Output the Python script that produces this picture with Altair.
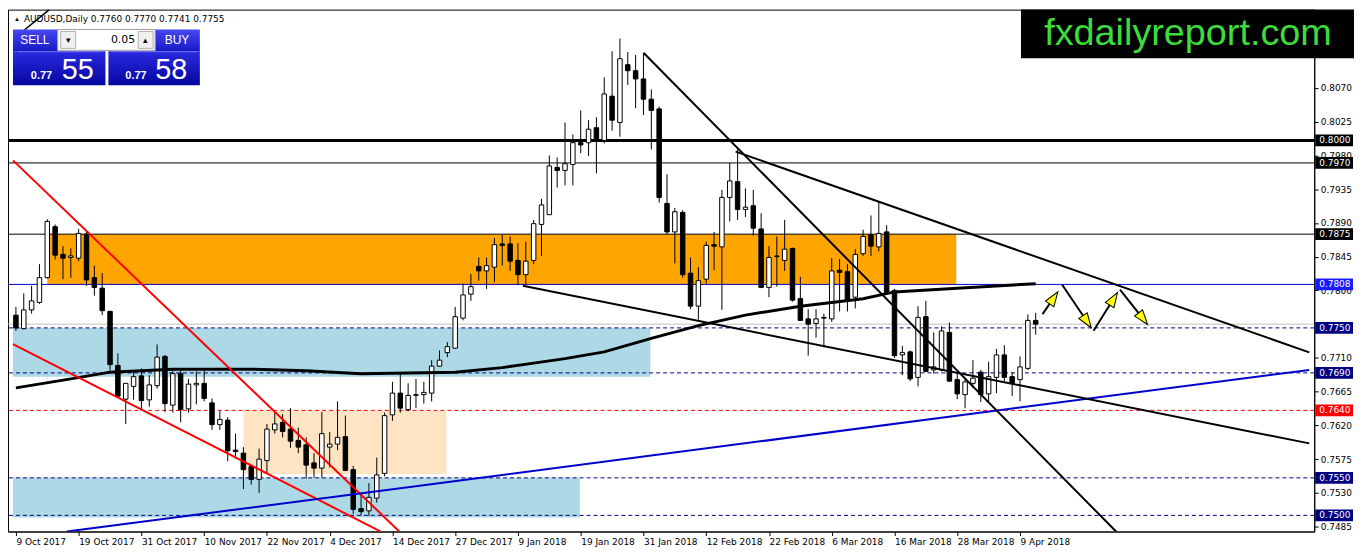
import json
import altair as alt
import pandas as pd

# ---------------- data ----------------
date_labels = ["9 Oct 2017", "19 Oct 2017", "31 Oct 2017", "10 Nov 2017", "22 Nov 2017",
               "4 Dec 2017", "14 Dec 2017", "27 Dec 2017", "9 Jan 2018", "19 Jan 2018",
               "31 Jan 2018", "12 Feb 2018", "22 Feb 2018", "6 Mar 2018", "16 Mar 2018",
               "28 Mar 2018", "9 Apr 2018"]

opens = [0.7767, 0.7749, 0.7774, 0.7784, 0.7817, 0.7885, 0.7848, 0.7844, 0.7843, 0.7875,
         0.7817, 0.7803, 0.7772, 0.7700, 0.7655, 0.7672, 0.7686, 0.7654, 0.7673, 0.7712,
         0.7647, 0.7689, 0.7642, 0.7674, 0.7676, 0.7650, 0.7621, 0.7627, 0.7587, 0.7583,
         0.7565, 0.7548, 0.7573, 0.7614, 0.7624, 0.7615, 0.7600, 0.7594, 0.7570, 0.7563,
         0.7591, 0.7595, 0.7605, 0.7561, 0.7509, 0.7506, 0.7523, 0.7556, 0.7634, 0.7663,
         0.7641, 0.7660, 0.7661, 0.7663, 0.7699, 0.7717, 0.7723, 0.7763, 0.7795, 0.7832,
         0.7826, 0.7831, 0.7862, 0.7862, 0.7840, 0.7821, 0.7840, 0.7888, 0.7901, 0.7964,
         0.7960, 0.7968, 0.7997, 0.7997, 0.8017, 0.8000, 0.8059, 0.8024, 0.8101, 0.8093,
         0.8082, 0.8055, 0.8042, 0.7916, 0.7878, 0.7904, 0.7823, 0.7779, 0.7815, 0.7861,
         0.7858, 0.7924, 0.7945, 0.7908, 0.7913, 0.7882, 0.7804, 0.7845, 0.7840, 0.7856,
         0.7789, 0.7762, 0.7756, 0.7764, 0.7762, 0.7827, 0.7825, 0.7791, 0.7849, 0.7874,
         0.7858, 0.7878, 0.7800, 0.7714, 0.7718, 0.7684, 0.7765, 0.7694, 0.7694, 0.7744,
         0.7681, 0.7661, 0.7676, 0.7691, 0.7662, 0.7684, 0.7714, 0.7685, 0.7681, 0.7696,
         0.7760]
highs = [0.7778, 0.7796, 0.7806, 0.7835, 0.7895, 0.7888, 0.7859, 0.7856, 0.7882, 0.7878,
         0.7833, 0.7823, 0.7773, 0.7716, 0.7676, 0.7693, 0.7696, 0.7687, 0.7728, 0.7714,
         0.7696, 0.7693, 0.7682, 0.7692, 0.7693, 0.7656, 0.7639, 0.7631, 0.7609, 0.7591,
         0.7567, 0.7589, 0.7622, 0.7637, 0.7635, 0.7643, 0.7617, 0.7604, 0.7583, 0.7638,
         0.7611, 0.7652, 0.7633, 0.7566, 0.7528, 0.7543, 0.7577, 0.7637, 0.7678, 0.7691,
         0.7676, 0.7682, 0.7678, 0.7707, 0.7720, 0.7731, 0.7778, 0.7809, 0.7822, 0.7844,
         0.7844, 0.7870, 0.7874, 0.7872, 0.7863, 0.7865, 0.7894, 0.7922, 0.7980, 0.7977,
         0.8024, 0.8008, 0.8040, 0.8027, 0.8031, 0.8084, 0.8119, 0.8136, 0.8118, 0.8114,
         0.8116, 0.8068, 0.8045, 0.7955, 0.7910, 0.7907, 0.7844, 0.7831, 0.7865, 0.7878,
         0.7934, 0.7970, 0.7988, 0.7936, 0.7934, 0.7903, 0.7859, 0.7872, 0.7894, 0.7857,
         0.7818, 0.7775, 0.7775, 0.7769, 0.7843, 0.7842, 0.7835, 0.7855, 0.7881, 0.7900,
         0.7918, 0.7887, 0.7802, 0.7726, 0.7720, 0.7779, 0.7786, 0.7744, 0.7752, 0.7757,
         0.7691, 0.7683, 0.7707, 0.7694, 0.7705, 0.7722, 0.7727, 0.7691, 0.7712, 0.7768,
         0.7770]
lows = [0.7746, 0.7748, 0.7769, 0.7782, 0.7816, 0.7841, 0.7815, 0.7817, 0.7839, 0.7806,
        0.7793, 0.7767, 0.7693, 0.7657, 0.7622, 0.7654, 0.7641, 0.7645, 0.7669, 0.7638,
        0.7637, 0.7624, 0.7637, 0.7648, 0.7652, 0.7614, 0.7614, 0.7572, 0.7576, 0.7535,
        0.7541, 0.7530, 0.7556, 0.7609, 0.7604, 0.7590, 0.7583, 0.7549, 0.7550, 0.7550,
        0.7564, 0.7587, 0.7559, 0.7502, 0.7500, 0.7499, 0.7517, 0.7552, 0.7626, 0.7637,
        0.7639, 0.7643, 0.7649, 0.7652, 0.7698, 0.7711, 0.7722, 0.7760, 0.7786, 0.7813,
        0.7802, 0.7811, 0.7833, 0.7826, 0.7807, 0.7808, 0.7835, 0.7846, 0.7901, 0.7937,
        0.7940, 0.7940, 0.7983, 0.7979, 0.7956, 0.7996, 0.8013, 0.8005, 0.8074, 0.8043,
        0.8034, 0.7988, 0.7917, 0.7875, 0.7836, 0.7817, 0.7775, 0.7761, 0.7809, 0.7827,
        0.7774, 0.7892, 0.7894, 0.7898, 0.7873, 0.7803, 0.7791, 0.7805, 0.7826, 0.7785,
        0.7759, 0.7713, 0.7737, 0.7724, 0.7758, 0.7772, 0.7772, 0.7776, 0.7846, 0.7846,
        0.7852, 0.7794, 0.7710, 0.7687, 0.7679, 0.7672, 0.7691, 0.7689, 0.7692, 0.7678,
        0.7655, 0.7643, 0.7670, 0.7651, 0.7652, 0.7663, 0.7679, 0.7659, 0.7652, 0.7694,
        0.7741]
closes = [0.7750, 0.7774, 0.7786, 0.7817, 0.7892, 0.7847, 0.7843, 0.7846, 0.7876, 0.7814,
          0.7804, 0.7773, 0.7701, 0.7659, 0.7676, 0.7685, 0.7653, 0.7674, 0.7711, 0.7649,
          0.7689, 0.7641, 0.7675, 0.7676, 0.7656, 0.7621, 0.7628, 0.7586, 0.7585, 0.7561,
          0.7548, 0.7575, 0.7615, 0.7622, 0.7612, 0.7599, 0.7591, 0.7567, 0.7563, 0.7609,
          0.7595, 0.7604, 0.7560, 0.7508, 0.7505, 0.7524, 0.7554, 0.7633, 0.7663, 0.7643,
          0.7660, 0.7661, 0.7664, 0.7699, 0.7707, 0.7725, 0.7765, 0.7794, 0.7805, 0.7826,
          0.7833, 0.7861, 0.7860, 0.7839, 0.7821, 0.7839, 0.7889, 0.7914, 0.7966, 0.7960,
          0.7969, 0.7997, 0.7994, 0.8015, 0.8000, 0.8062, 0.8027, 0.8109, 0.8093, 0.8082,
          0.8055, 0.8040, 0.7924, 0.7878, 0.7905, 0.7821, 0.7779, 0.7813, 0.7860, 0.7859,
          0.7924, 0.7946, 0.7908, 0.7911, 0.7883, 0.7804, 0.7844, 0.7846, 0.7855, 0.7787,
          0.7760, 0.7755, 0.7762, 0.7763, 0.7826, 0.7824, 0.7787, 0.7848, 0.7872, 0.7859,
          0.7876, 0.7796, 0.7713, 0.7717, 0.7682, 0.7764, 0.7692, 0.7698, 0.7746, 0.7679,
          0.7662, 0.7678, 0.7683, 0.7661, 0.7685, 0.7714, 0.7684, 0.7676, 0.7698, 0.7760,
          0.7755]

# moving average (bar index, value)
ma_idx = [0, 7, 12, 20, 30, 37, 44, 50, 56, 62, 66, 70, 75, 81, 87, 93, 100, 108, 112, 120, 130]
ma_val = [0.7670, 0.7682, 0.7691, 0.7695, 0.7695, 0.7693, 0.7689, 0.7690, 0.7691, 0.7697,
          0.7703, 0.7709, 0.7718, 0.7736, 0.7753, 0.7767, 0.7779, 0.7789, 0.7798, 0.7803, 0.7809]

# shaded zones
zone_x1 = [4.0, -0.375, -0.375, 29.0]
zone_x2 = [119.875, 80.875, 71.875, 54.875]
zone_lo = [0.7808, 0.7685, 0.7497, 0.7555]
zone_hi = [0.7875, 0.7750, 0.7550, 0.7640]
zone_col = ["#FFA500", "#ADD8E6", "#ADD8E6", "#FFE4C4"]

# trend lines
tl_x1 = [-0.375, -0.375, 6.5, 80.0, 91.75, 64.625, 0.0]
tl_p1 = [0.79734, 0.77285, 0.747846, 0.8117, 0.79851, 0.78062, 0.81379]
tl_x2 = [48.875, 46.5, 164.875, 140.25, 164.875, 164.875, 4.25]
tl_p2 = [0.747846, 0.747846, 0.76939, 0.747846, 0.77174, 0.7596, 0.81745]
tl_col = ["#FF0000", "#FF0000", "#0000CD", "#000000", "#000000", "#000000", "#000000"]
tl_w = [2, 2, 2, 2, 2, 2, 1.5]

# arrow zig-zag
ar_x1 = [130.875, 133.375, 137.375, 140.75]
ar_p1 = [0.77684, 0.78075, 0.77462, 0.7801]
ar_x2 = [132.25, 136.5, 139.875, 143.625]
ar_p2 = [0.77892, 0.77592, 0.77879, 0.77631]
ar_ang = [34, 146, 32, 142]

# horizontal levels
thick_levels = [0.8000]
solid_levels = [0.7970, 0.7875]
blue_levels = [0.7808]
bid_levels = [0.7755]
navy_dash_levels = [0.7750, 0.7690, 0.7550, 0.7500]
red_dash_levels = [0.7640]

# right axis
axis_ticks = [0.8070, 0.8025, 0.7980, 0.7935, 0.7890, 0.7845, 0.7800, 0.7710,
              0.7665, 0.7620, 0.7575, 0.7530, 0.7485]
box_vals = [0.8000, 0.7970, 0.7875, 0.7808, 0.7750, 0.7690, 0.7640, 0.7550, 0.7500]
box_cols = ["#000000", "#000000", "#000000", "#1A1AFF", "#000080", "#000080",
            "#FF0000", "#000080", "#000080"]

# ---------------- chart ----------------
W, H = 1314, 525
XD = [-0.375, 164.875]
YD = [0.747846, 0.817447]
xs = alt.Scale(domain=XD, nice=False, zero=False)
ys = alt.Scale(domain=YD, nice=False, zero=False)

cdf = pd.DataFrame({"idx": list(range(len(opens))), "o": opens, "h": highs,
                    "l": lows, "c": closes})
cdf["top"] = cdf[["o", "c"]].max(axis=1)
cdf["bot"] = cdf[["o", "c"]].min(axis=1)

label_expr = "%s[round(datum.value/8)]" % json.dumps(date_labels)
xaxis = alt.Axis(values=[8 * k for k in range(len(date_labels))], labelExpr=label_expr,
                 title=None, grid=False, labelAlign="left", labelFontSize=9,
                 labelFont="DejaVu Sans", labelColor="black", tickColor="black",
                 domainColor="black", tickSize=4, labelPadding=2, labelOverlap=False,
                 labelFlush=False, labelBound=False)
yaxis = alt.Axis(orient="right", values=axis_ticks, format=".4f", title=None, grid=False,
                 labelFontSize=9, labelFont="DejaVu Sans", labelColor="black",
                 tickColor="black", domainColor="black", tickSize=4, labelPadding=2,
                 labelOverlap=False, labelFlush=False, labelBound=False)


def X(f):
    return alt.X(f, scale=xs, axis=xaxis)


def Y(f):
    return alt.Y(f, scale=ys, axis=yaxis)


one = pd.DataFrame({"k": [0]})

zdf = pd.DataFrame({"x1": zone_x1, "x2": zone_x2, "lo": zone_lo, "hi": zone_hi, "col": zone_col})
zones = alt.Chart(zdf).mark_rect().encode(
    x=X("x1:Q"), x2="x2:Q", y=Y("lo:Q"), y2="hi:Q",
    color=alt.Color("col:N", scale=None))


def hlines(vals, color, width, dash=None):
    kw = dict(color=color, strokeWidth=width)
    if dash:
        kw["strokeDash"] = dash
    return alt.Chart(pd.DataFrame({"v": vals})).mark_rule(**kw).encode(y=Y("v:Q"))


lines = [
    hlines(bid_levels, "#C0C0C0", 1),
    hlines(navy_dash_levels, "#000080", 1, [4, 3]),
    hlines(red_dash_levels, "#FF0000", 1, [4, 3]),
    hlines(solid_levels, "#000000", 1),
    hlines(blue_levels, "#0000CD", 1),
    hlines(thick_levels, "#000000", 3),
]

wicks = alt.Chart(cdf).mark_rule(color="black", strokeWidth=1).encode(
    x=X("idx:Q"), y=Y("l:Q"), y2="h:Q")
bodies = alt.Chart(cdf).mark_bar(size=4.5, stroke="black", strokeWidth=1).encode(
    x=X("idx:Q"), y=Y("bot:Q"), y2="top:Q",
    fill=alt.condition("datum.c >= datum.o", alt.value("white"), alt.value("black")))

ma = alt.Chart(pd.DataFrame({"i": ma_idx, "v": ma_val})).mark_line(
    color="black", strokeWidth=3).encode(x=X("i:Q"), y=Y("v:Q"))

tdf = pd.DataFrame({"x1": tl_x1, "p1": tl_p1, "x2": tl_x2, "p2": tl_p2, "col": tl_col, "w": tl_w})
trends = alt.Chart(tdf).mark_rule(clip=True).encode(
    x=X("x1:Q"), x2="x2:Q", y=Y("p1:Q"), y2="p2:Q",
    color=alt.Color("col:N", scale=None),
    strokeWidth=alt.StrokeWidth("w:Q", scale=None))

adf = pd.DataFrame({"x1": ar_x1, "p1": ar_p1, "x2": ar_x2, "p2": ar_p2, "ang": ar_ang})
arrow_lines = alt.Chart(adf).mark_rule(color="black", strokeWidth=2).encode(
    x=X("x1:Q"), x2="x2:Q", y=Y("p1:Q"), y2="p2:Q")
arrow_heads = alt.Chart(adf).mark_point(
    shape="M0,-1L0.62,0.8L-0.62,0.8Z", filled=True, fill="#FFFF00", stroke="black",
    strokeWidth=1, size=270, opacity=1).encode(
    x=X("x2:Q"), y=Y("p2:Q"), angle=alt.Angle("ang:Q", scale=None))

bdf = pd.DataFrame({"v": box_vals, "col": box_cols})
bdf["lab"] = bdf["v"].map(lambda v: "%.4f" % v)
boxes = alt.Chart(bdf).transform_calculate(
    lo="datum.v - 0.00078", hi="datum.v + 0.00078").mark_rect().encode(
    x=alt.value(W + 1), x2=alt.value(W + 39), y=Y("lo:Q"), y2="hi:Q",
    color=alt.Color("col:N", scale=None))
box_text = alt.Chart(bdf).mark_text(align="left", baseline="middle", fontSize=9,
                                    font="DejaVu Sans", color="white").encode(
    x=alt.value(W + 5), y=Y("v:Q"), text="lab:N")


# ---- decorations: header text, trade panel, logo ----
def rect(x1, x2, y1, y2, **kw):
    return alt.Chart(one).mark_rect(**kw).encode(
        x=alt.value(x1), x2=alt.value(x2), y=alt.value(y1), y2=alt.value(y2))


def text(x, y, s, **kw):
    return alt.Chart(one).mark_text(text=s, **kw).encode(x=alt.value(x), y=alt.value(y))


grad_top = alt.Gradient(gradient="linear", x1=0, x2=0, y1=0, y2=1,
                        stops=[alt.GradientStop(color="#4848F0", offset=0),
                               alt.GradientStop(color="#1818C8", offset=1)])
grad_low = alt.Gradient(gradient="linear", x1=0, x2=0, y1=0, y2=1,
                        stops=[alt.GradientStop(color="#2A2AE0", offset=0),
                               alt.GradientStop(color="#0606A0", offset=1)])

deco = [
    text(6, 9, "\u25b2", fontSize=6, color="black", align="left", baseline="middle"),
    text(16, 9, "AUDUSD,Daily  0.7760 0.7770 0.7741 0.7755", fontSize=9,
         font="DejaVu Sans", color="black", align="left", baseline="middle"),
    rect(5, 50, 20, 42, fill=grad_top),
    rect(5, 98, 42, 76, fill=grad_low),
    rect(148, 193, 20, 42, fill=grad_top),
    rect(101, 193, 42, 76, fill=grad_low),
    rect(50, 148, 20, 41, fill="white", stroke="#A0A0A0", strokeWidth=1),
    rect(53, 68, 22, 39, fill="#F0F0F0", stroke="#B0B0B0", strokeWidth=1),
    rect(131, 146, 22, 39, fill="#F0F0F0", stroke="#B0B0B0", strokeWidth=1),
    text(60.5, 31, "\u25be", fontSize=9, color="black", align="center", baseline="middle"),
    text(138.5, 31, "\u25b4", fontSize=9, color="black", align="center", baseline="middle"),
    text(128, 31, "0.05", fontSize=11, font="DejaVu Sans", color="black", align="right",
         baseline="middle"),
    text(27, 31, "SELL", fontSize=12, font="Liberation Sans", color="white", align="center",
         baseline="middle"),
    text(170, 31, "BUY", fontSize=12, font="Liberation Sans", color="white", align="center",
         baseline="middle"),
    rect(10, 95, 42, 43, fill="#7070F0"),
    rect(105, 190, 42, 43, fill="#7070F0"),
    text(23, 70, "0.77", fontSize=11, font="Liberation Sans", fontWeight="bold",
         color="white", align="left", baseline="alphabetic"),
    text(54, 70, "55", fontSize=29, font="Liberation Sans", color="white", align="left",
         baseline="alphabetic"),
    text(118, 70, "0.77", fontSize=11, font="Liberation Sans", fontWeight="bold",
         color="white", align="left", baseline="alphabetic"),
    text(148, 70, "58", fontSize=29, font="Liberation Sans", color="white", align="left",
         baseline="alphabetic"),
    rect(1019, 1354, 0, 49, fill="black"),
    text(1187, 36, "fxdailyreport.com", fontSize=38, font="Liberation Sans",
         color="#3DDC3D", align="center", baseline="alphabetic"),
]

chart = alt.layer(
    zones, *lines, wicks, bodies, ma, trends, arrow_lines, arrow_heads,
    boxes, box_text, *deco
).properties(
    width=W, height=H,
    autosize=alt.AutoSizeParams(type="none"),
    padding={"left": 0, "top": 0, "right": 40, "bottom": 21},
    background="white",
).configure_view(stroke="black", strokeWidth=1)

chart.save("out.html", embed_options={"renderer": "svg", "actions": False})
